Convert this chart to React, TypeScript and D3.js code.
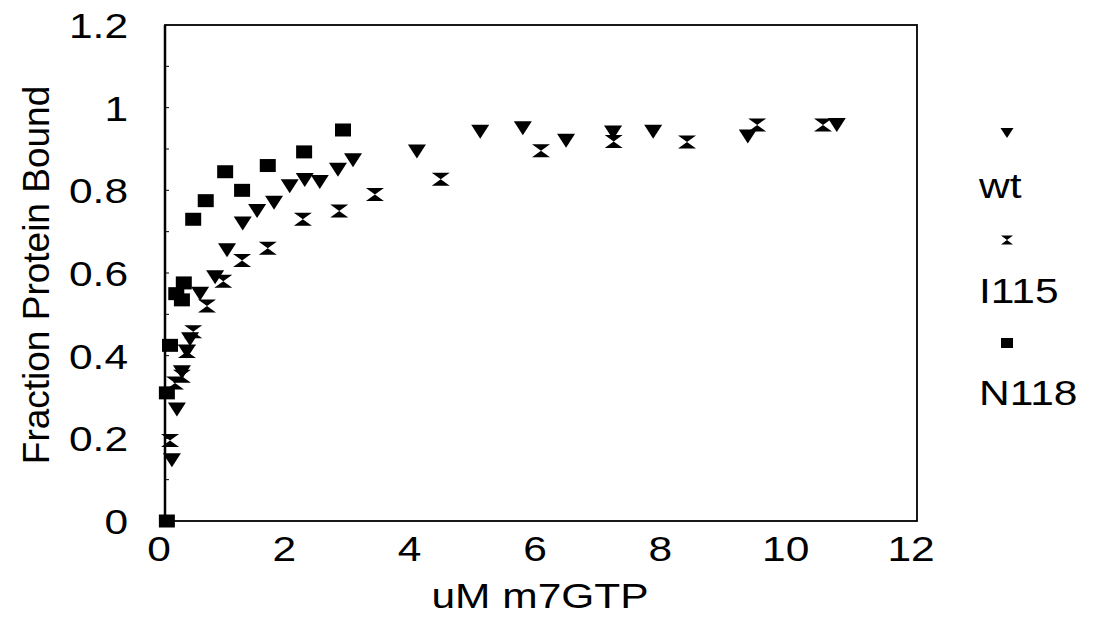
import * as d3 from "d3";

// wt (down triangles)
const wtX = [0.11, 0.19, 0.27, 0.35, 0.4, 0.56, 0.8, 0.99, 1.24, 1.47, 1.74, 1.99, 2.23, 2.47, 2.76, 3.0, 4.02, 5.03, 5.71, 6.4, 7.15, 7.79, 9.3, 10.72];
const wtY = [0.147, 0.27, 0.36, 0.41, 0.44, 0.55, 0.59, 0.655, 0.72, 0.75, 0.77, 0.81, 0.825, 0.82, 0.85, 0.873, 0.894, 0.942, 0.95, 0.92, 0.94, 0.942, 0.93, 0.958];

// I115 (hourglass)
const i115X = [0.08, 0.16, 0.27, 0.35, 0.45, 0.67, 0.93, 1.23, 1.64, 2.2, 2.78, 3.35, 4.4, 6.0, 7.16, 8.33, 9.45, 10.5];
const i115Y = [0.195, 0.334, 0.35, 0.41, 0.458, 0.52, 0.58, 0.63, 0.66, 0.73, 0.75, 0.79, 0.827, 0.896, 0.918, 0.917, 0.958, 0.958];

// N118 (squares)
const n118X = [0.03, 0.03, 0.08, 0.18, 0.3, 0.27, 0.45, 0.65, 0.96, 1.23, 1.64, 2.22, 2.84];
const n118Y = [0, 0.31, 0.425, 0.55, 0.576, 0.535, 0.73, 0.775, 0.845, 0.8, 0.86, 0.893, 0.946];

const xTicks = [0, 2, 4, 6, 8, 10, 12];
const yTicks = [0, 0.2, 0.4, 0.6, 0.8, 1, 1.2];
const seriesNames = ["wt", "I115", "N118"];

const W = 1094;
const H = 637;
const FONT = "'Liberation Sans', Arial, sans-serif";
const FS = 36;
const SX = 1.18; // the scan is a little wider than tall

const tri = (w: number, h: number) =>
  `M${-w / 2},${-h / 2}L${w / 2},${-h / 2}L0,${h / 2}Z`;
const hourglass = (w: number, h: number) =>
  `M${-w / 2},${-h / 2}L${w / 2},${-h / 2}L0,0L${w / 2},${h / 2}L${-w / 2},${h / 2}L0,0Z`;
const square = (w: number, h: number) =>
  `M${-w / 2},${-h / 2}h${w}v${h}h${-w}Z`;

function Label({ x, y, anchor = "start", children }: any) {
  return (
    <text transform={`translate(${x},${y}) scale(${SX},1)`} textAnchor={anchor} fontFamily={FONT} fontSize={FS} fill="#000">
      {children}
    </text>
  );
}

export default function App() {
  const x = d3.scaleLinear().domain([0, 12]).range([165, 917]);
  const y = d3.scaleLinear().domain([0, 1.2]).range([521, 25]);
  const fmt = (d: number) => String(+d.toFixed(1));
  const minor = d3.range(0, 12).map((i) => i / 10);

  const wt = wtX.map((v, i) => [v, wtY[i]]);
  const i115 = i115X.map((v, i) => [v, i115Y[i]]);
  const n118 = n118X.map((v, i) => [v, n118Y[i]]);

  return (
    <svg width={W} height={H} style={{ position: "absolute", left: 0, top: 0, background: "#fff" }}>
      <rect width={W} height={H} fill="#fff" />
      {/* frame */}
      <rect x={x(0)} y={y(1.2)} width={x(12) - x(0)} height={y(0) - y(1.2)} fill="none" stroke="#000" strokeWidth={1.8} />
      <line x1={x(0)} x2={x(0)} y1={y(1.2)} y2={y(0)} stroke="#000" strokeWidth={2.5} />
      {minor.map((d) => (
        <line key={d} x1={x(0)} x2={x(0) + 4} y1={y(d)} y2={y(d)} stroke="#000" strokeWidth={1} />
      ))}
      {/* y tick labels */}
      {yTicks.map((d) => (
        <Label key={d} x={128} y={y(d) + 13} anchor="end">{fmt(d)}</Label>
      ))}
      {/* x tick labels */}
      {xTicks.map((d) => (
        <Label key={d} x={x(d) - 6} y={561} anchor="middle">{d}</Label>
      ))}
      <Label x={540} y={608} anchor="middle">uM m7GTP</Label>
      <text transform={`translate(49,275) rotate(-90)`} textAnchor="middle" fontFamily={FONT} fontSize={37} fill="#000">
        Fraction Protein Bound
      </text>

      {/* points */}
      {n118.map(([a, b], i) => (
        <path key={"n" + i} d={square(16, 13)} transform={`translate(${x(a)},${y(b)})`} fill="#000" />
      ))}
      {wt.map(([a, b], i) => (
        <path key={"w" + i} d={tri(18, 14)} transform={`translate(${x(a)},${y(b)})`} fill="#000" />
      ))}
      {i115.map(([a, b], i) => (
        <path key={"i" + i} d={hourglass(18, 13)} transform={`translate(${x(a)},${y(b)})`} fill="#000" />
      ))}

      {/* legend */}
      <path d={tri(13, 10)} transform="translate(1007,133)" fill="#000" />
      <Label x={979} y={198}>{seriesNames[0]}</Label>
      <path d={hourglass(12, 9)} transform="translate(1007,240)" fill="#000" />
      <Label x={979} y={303}>{seriesNames[1]}</Label>
      <path d={square(12, 10)} transform="translate(1007,343)" fill="#000" />
      <Label x={979} y={405}>{seriesNames[2]}</Label>
    </svg>
  );
}
